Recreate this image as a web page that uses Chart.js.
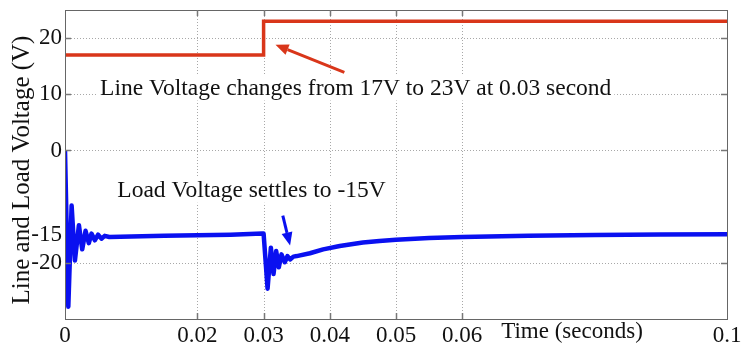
<!DOCTYPE html>
<html><head><meta charset="utf-8">
<script src="https://cdn.jsdelivr.net/npm/chart.js@4/dist/chart.umd.min.js"></script>
<style>html,body{margin:0;padding:0;background:#fff;} canvas{display:block;}</style>
</head><body>
<canvas id="c" width="741" height="351"></canvas>
<script>
// ---- data ----
const lineTime    = [0, 0.03, 0.03, 0.1];
const lineVoltage = [17, 17, 23, 23];

const loadTime = [0, 0.0005, 0.001, 0.0015, 0.0021, 0.0026, 0.0031, 0.0036, 0.004, 0.0045,
  0.005, 0.0055, 0.006, 0.0067, 0.01, 0.015, 0.02, 0.025, 0.0298, 0.03,
  0.0306, 0.0311, 0.0315, 0.0319, 0.0323, 0.0327, 0.0332, 0.0336, 0.034, 0.0345,
  0.035, 0.037, 0.039, 0.0415, 0.045, 0.0475, 0.05, 0.055, 0.06, 0.07, 0.08, 0.09, 0.1];
const loadVoltage = [0, -27.8, -9.8, -19.6, -13.3, -17.6, -14.3, -16.5, -14.8, -16.0,
  -15.0, -15.7, -15.2, -15.4, -15.3, -15.2, -15.1, -15.0, -14.8, -14.8,
  -24.6, -17.3, -22.0, -17.9, -20.8, -18.5, -19.9, -18.8, -19.4, -18.9,
  -18.8, -18.3, -17.6, -17.0, -16.4, -16.1, -15.9, -15.6, -15.4, -15.2, -15.05, -14.95, -14.9];

const xTicks      = [0, 0.02, 0.03, 0.04, 0.05, 0.06, 0.1];
const xTickLabels = ['0', '0.02', '0.03', '0.04', '0.05', '0.06', '0.1'];
const yTicks      = [20, 10, 0, -15, -20];
const yTickLabels = ['20', '10', '0', '-15', '-20'];
const xGrid = [0.02, 0.03, 0.04, 0.05, 0.06];
const yGrid = [20, 10, 0, -20];

const xTitle = 'Time (seconds)';
const yTitle = 'Line and Load Voltage (V)';
const lineNote = 'Line Voltage changes from 17V to 23V at 0.03 second';
const loadNote = 'Load Voltage settles to -15V';

// ---- styles ----
const RED = '#d9361a';
const BLUE = '#0a10f0';
const FONT = '"Liberation Serif", "Times New Roman", serif';

const notes = [
  {text: lineNote, x: 0.0053, y: 11.2},
  {text: loadNote, x: 0.0079, y: -7.0}
];
const arrows = [
  {from: [0.0422, 13.9], to: [0.0318, 18.8], color: RED},
  {from: [0.0329, -11.6], to: [0.0340, -16.9], color: BLUE}
];

function toPts(xs, ys) { return xs.map((t, i) => ({x: t, y: ys[i]})); }

function drawArrow(ctx, x1, y1, x2, y2, color) {
  const ang = Math.atan2(y2 - y1, x2 - x1);
  const L = 13, W = 5.5;
  const bx = x2 - L * Math.cos(ang), by = y2 - L * Math.sin(ang);
  ctx.save();
  ctx.strokeStyle = color; ctx.fillStyle = color; ctx.lineWidth = 3;
  ctx.beginPath(); ctx.moveTo(x1, y1); ctx.lineTo(bx, by); ctx.stroke();
  ctx.beginPath();
  ctx.moveTo(x2, y2);
  ctx.lineTo(bx + W * Math.sin(ang), by - W * Math.cos(ang));
  ctx.lineTo(bx - W * Math.sin(ang), by + W * Math.cos(ang));
  ctx.closePath(); ctx.fill();
  ctx.restore();
}

const decor = {
  id: 'decor',
  beforeDatasetsDraw(chart) {
    const {ctx, chartArea: a, scales: {x, y}} = chart;
    ctx.save();
    ctx.strokeStyle = '#a8a8a8'; ctx.lineWidth = 1; ctx.setLineDash([1, 2]);
    xGrid.forEach(v => {
      const px = Math.round(x.getPixelForValue(v)) + 0.5;
      ctx.beginPath(); ctx.moveTo(px, a.top); ctx.lineTo(px, a.bottom); ctx.stroke();
    });
    yGrid.forEach(v => {
      const py = Math.round(y.getPixelForValue(v)) + 0.5;
      ctx.beginPath(); ctx.moveTo(a.left, py); ctx.lineTo(a.right, py); ctx.stroke();
    });
    ctx.setLineDash([]);
    ctx.font = '23.5px ' + FONT;
    ctx.textBaseline = 'middle'; ctx.textAlign = 'left';
    notes.forEach(n => {
      const px = x.getPixelForValue(n.x), py = y.getPixelForValue(n.y);
      const w = ctx.measureText(n.text).width;
      ctx.fillStyle = '#fff';
      ctx.fillRect(px - 3, py - 13, w + 6, 26);
      ctx.fillStyle = '#111';
      ctx.fillText(n.text, px, py + 1);
    });
    ctx.restore();
  },
  afterDatasetsDraw(chart) {
    const {ctx, chartArea: a, scales: {x, y}} = chart;
    ctx.save();
    // frame
    ctx.strokeStyle = '#666'; ctx.lineWidth = 1;
    ctx.strokeRect(Math.round(a.left) + 0.5, Math.round(a.top) + 0.5,
      Math.round(a.right - a.left), Math.round(a.bottom - a.top));
    // inward tick marks
    ctx.strokeStyle = '#777'; ctx.lineWidth = 1.5;
    yGrid.forEach(v => {
      const py = Math.round(y.getPixelForValue(v)) + 0.5;
      ctx.beginPath(); ctx.moveTo(a.left, py); ctx.lineTo(a.left + 6, py); ctx.stroke();
      ctx.beginPath(); ctx.moveTo(a.right, py); ctx.lineTo(a.right - 6, py); ctx.stroke();
    });
    xGrid.forEach(v => {
      const px = Math.round(x.getPixelForValue(v)) + 0.5;
      ctx.beginPath(); ctx.moveTo(px, a.bottom); ctx.lineTo(px, a.bottom - 6); ctx.stroke();
      ctx.beginPath(); ctx.moveTo(px, a.top); ctx.lineTo(px, a.top + 6); ctx.stroke();
    });
    // arrows
    arrows.forEach(ar => drawArrow(ctx,
      x.getPixelForValue(ar.from[0]), y.getPixelForValue(ar.from[1]),
      x.getPixelForValue(ar.to[0]), y.getPixelForValue(ar.to[1]), ar.color));
    // axis titles
    ctx.fillStyle = '#111';
    ctx.font = '23px ' + FONT;
    ctx.textAlign = 'center'; ctx.textBaseline = 'middle';
    ctx.fillText(xTitle, 572, a.bottom + 13);
    ctx.save();
    ctx.translate(22, 170); ctx.rotate(-Math.PI / 2);
    ctx.font = '25px ' + FONT;
    ctx.fillText(yTitle, 0, 0);
    ctx.restore();
    ctx.restore();
  }
};

new Chart(document.getElementById('c'), {
  type: 'scatter',
  data: {
    datasets: [
      {data: toPts(lineTime, lineVoltage), showLine: true, borderColor: RED, borderWidth: 3.5,
       pointRadius: 0, tension: 0, fill: false},
      {data: toPts(loadTime, loadVoltage), showLine: true, borderColor: BLUE, borderWidth: 4.5,
       pointRadius: 0, tension: 0, fill: false, borderJoinStyle: 'round'}
    ]
  },
  options: {
    responsive: false, animation: false, devicePixelRatio: 1,
    layout: {padding: {left: 0, right: 14, top: 10, bottom: 0}},
    plugins: {legend: {display: false}, tooltip: {enabled: false}},
    scales: {
      x: {
        type: 'linear', min: 0, max: 0.1,
        afterBuildTicks: s => { s.ticks = xTicks.map(v => ({value: v})); },
        afterFit: s => { s.height = 32; s.paddingLeft = 0; s.paddingRight = 0; },
        grid: {display: false, drawTicks: false}, border: {display: false},
        ticks: {autoSkip: false, maxRotation: 0, padding: 3, color: '#111',
          font: {family: FONT, size: 23},
          callback: (v) => { const i = xTicks.indexOf(v); return i >= 0 ? xTickLabels[i] : ''; }}
      },
      y: {
        type: 'linear', min: -30, max: 25,
        afterBuildTicks: s => { s.ticks = yTicks.map(v => ({value: v})); },
        afterFit: s => { s.width = 65; s.paddingTop = 0; s.paddingBottom = 0; },
        grid: {display: false, drawTicks: false}, border: {display: false},
        ticks: {autoSkip: false, padding: 3, color: '#111',
          font: {family: FONT, size: 23},
          callback: (v) => { const i = yTicks.indexOf(v); return i >= 0 ? yTickLabels[i] : ''; }}
      }
    }
  },
  plugins: [decor]
});
</script>
</body></html>
